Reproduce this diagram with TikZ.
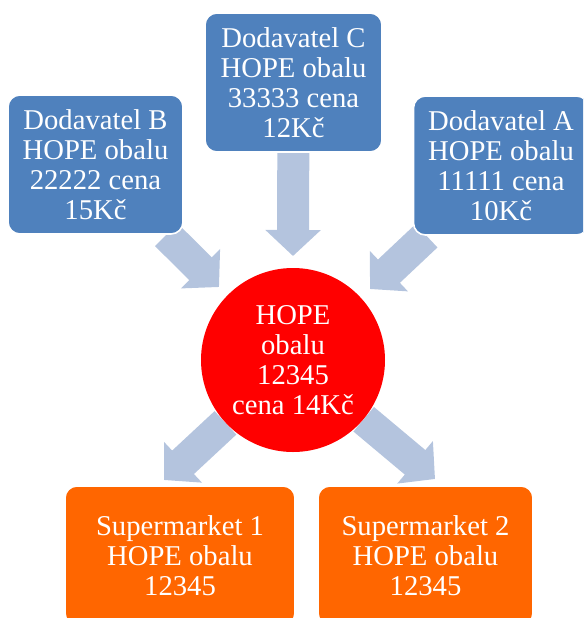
\documentclass[tikz,border=0pt]{standalone}
\usepackage{fontspec}
\setmainfont{Liberation Serif}
\usetikzlibrary{arrows.meta}
\definecolor{boxblue}{RGB}{79,129,189}
\definecolor{arrowblue}{RGB}{180,196,222}
\definecolor{shoporange}{RGB}{255,102,0}
\pgfdeclarelayer{bg}
\pgfsetlayers{bg,main}
\tikzset{
  card/.style={draw=white,line width=1.2pt,rounded corners=9pt,text=white,align=center,
    inner sep=0pt,minimum height=104.25pt,font=\fontsize{21.5}{22.5}\selectfont},
  supplier/.style={card,fill=boxblue},
  shop/.style={card,fill=shoporange},
  hubstyle/.style={circle,fill=red,text=white,align=center,inner sep=0pt,
    minimum size=138pt,font=\fontsize{21.5}{22.5}\selectfont},
  fatarrow/.style={draw=arrowblue,line width=24pt,
    -{Triangle[width=40.5pt,length=19.5pt,fill=arrowblue]}}
}
\begin{document}
\begin{tikzpicture}[x=0.75pt,y=-0.75pt]
\useasboundingbox (0,0) rectangle (583,618);
\clip (0,0) rectangle (583,618);

\node[supplier,minimum width=131.25pt] (dodB) at (95.5,164.5) {Dodavatel B\\HOPE obalu\\22222 cena\\15Kč};
\node[supplier,minimum width=132.75pt] (dodC) at (293.5,82.5) {Dodavatel C\\HOPE obalu\\33333 cena\\12Kč};
\node[supplier,minimum width=131.25pt] (dodA) at (501,165.5) {Dodavatel A\\HOPE obalu\\11111 cena\\10Kč};
\node[hubstyle] (hub) at (293,360) {HOPE\\obalu\\12345\\cena 14Kč};
\node[shop,minimum width=172.5pt] (shop1) at (180,555.5) {Supermarket 1\\HOPE obalu\\12345};
\node[shop,minimum width=161.25pt] (shop2) at (425.5,555.5) {Supermarket 2\\HOPE obalu\\12345};

\coordinate (tipC) at (293,256);
\coordinate (tipB) at (219,287);
\coordinate (tipA) at (370,289);
\coordinate (tip1) at (164,480);
\coordinate (tip2) at (435,479);

\begin{pgfonlayer}{bg}
\draw[fatarrow] (dodC) -- (tipC);
\draw[fatarrow] (dodB) -- (tipB);
\draw[fatarrow] (dodA) -- (tipA);
\draw[fatarrow] (hub) -- (tip1);
\draw[fatarrow] (hub) -- (tip2);
\end{pgfonlayer}
\end{tikzpicture}
\end{document}
